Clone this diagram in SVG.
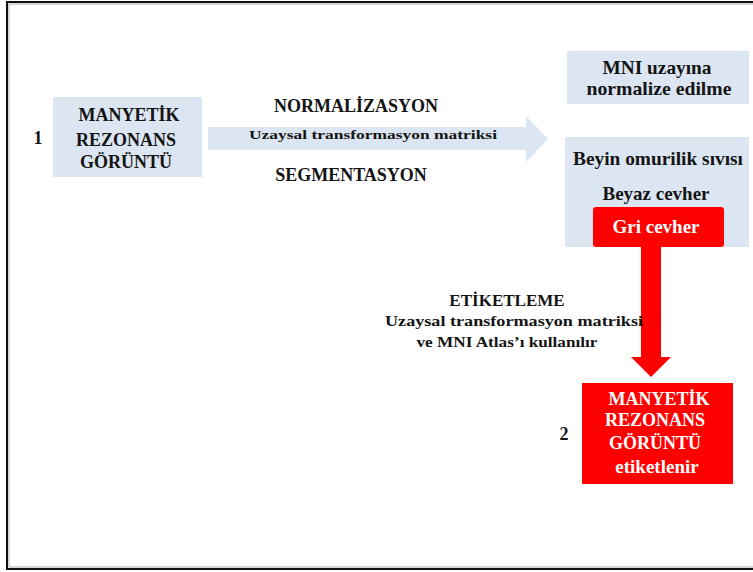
<svg xmlns="http://www.w3.org/2000/svg" width="753" height="572" viewBox="0 0 753 572">
<style>
text{font-family:"Liberation Serif","Times New Roman",serif;font-weight:bold;fill:#141414;text-anchor:middle}
.w{fill:#ffffff}
.blue{fill:#dce6f2}
.red{fill:#ff0000}
</style>
<rect x="0" y="0" width="753" height="572" fill="#ffffff"/>
<path d="M760 2 H7 V569 H760" fill="none" stroke="#111" stroke-width="2"/>
<path d="M760 4 H9 V567 H760" fill="none" stroke="#999" stroke-width="0.8"/>

<g id="connectors">
  <g id="normalization-arrow">
    <polygon class="blue" points="208,127 526,127 526,116 548,139 526,162 526,150 208,150"/>
    <text x="356" y="112" font-size="18">NORMALİZASYON</text>
    <text x="373" y="139" font-size="13" textLength="248" lengthAdjust="spacingAndGlyphs">Uzaysal transformasyon matriksi</text>
    <text x="351" y="181" font-size="18">SEGMENTASYON</text>
  </g>
  <g id="labeling-arrow">
    <polygon class="red" points="641,247 661,247 661,357 671,357 651,377 631,357 641,357"/>
    <text x="507" y="306" font-size="17">ETİKETLEME</text>
    <text x="514" y="326" font-size="15" textLength="258" lengthAdjust="spacingAndGlyphs">Uzaysal transformasyon matriksi</text>
    <text x="507" y="347" font-size="15" textLength="181" lengthAdjust="spacingAndGlyphs">ve MNI Atlas’ı kullanılır</text>
  </g>
</g>

<g id="node-1">
  <text x="38" y="144" font-size="18">1</text>
  <rect class="blue" x="53" y="97" width="149" height="80"/>
  <text x="129" y="121" font-size="18">MANYETİK</text>
  <text x="126" y="146" font-size="18">REZONANS</text>
  <text x="126" y="168" font-size="18">GÖRÜNTÜ</text>
</g>

<g id="node-mni">
  <rect class="blue" x="567" y="51" width="182" height="53"/>
  <text x="657" y="74" font-size="19" textLength="109" lengthAdjust="spacingAndGlyphs">MNI  uzayına</text>
  <text x="659" y="95" font-size="19" textLength="145" lengthAdjust="spacingAndGlyphs">normalize edilme</text>
</g>

<g id="node-segments">
  <rect class="blue" x="565" y="137" width="184" height="110"/>
  <text x="658" y="165" font-size="19" textLength="170" lengthAdjust="spacingAndGlyphs">Beyin omurilik sıvısı</text>
  <text x="656" y="200" font-size="19">Beyaz cevher</text>
</g>

<g id="node-gri">
  <rect class="red" x="593" y="207" width="131" height="40" rx="3"/>
  <text class="w" x="656" y="233" font-size="19">Gri cevher</text>
</g>

<g id="node-2">
  <text x="564" y="440" font-size="18">2</text>
  <rect class="red" x="582" y="383" width="151" height="101"/>
  <text class="w" x="659" y="405" font-size="18">MANYETİK</text>
  <text class="w" x="655" y="426" font-size="18">REZONANS</text>
  <text class="w" x="655" y="449" font-size="18">GÖRÜNTÜ</text>
  <text class="w" x="657" y="473" font-size="19">etiketlenir</text>
</g>
</svg>
